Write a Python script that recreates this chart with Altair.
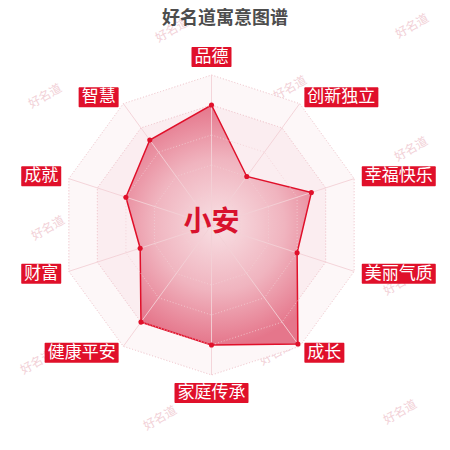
import altair as alt
import pandas as pd

# ---------------- data ----------------
TITLE = "好名道寓意图谱"
PERSON = "小安"
DIMENSIONS = ["品德", "创新独立", "幸福快乐", "美丽气质", "成长",
              "家庭传承", "健康平安", "财富", "成就", "智慧"]
SCORES = [80, 40, 70, 60, 98, 80, 80, 50, 60, 70]
SCORE_MAX = 100
GRID_LEVELS = [20, 40, 60, 80, 100]
WATERMARK = "好名道"

# ---------------- layout (pixels) ----------------
PAGE = 450
MARGIN = 8
PLOT_W = PAGE - 2 * MARGIN
PLOT_H = PAGE - 2 * MARGIN
CX, CY, R = 211.5, 225.0, 150.0          # radar centre / radius on the page
TITLE_POS = (225.0, 10.0)                # page position of the title (top)
LABEL_GAP = 8
LABEL_FS = 17
BOX_PAD = 3
BOX_H = 20
WATERMARK_SPOTS = [(172, 30), (412, 26), (45, 96), (290, 88), (411, 149),
                   (48, 228), (400, 283), (37, 362), (276, 353), (160, 418),
                   (400, 412)]

FONT = "Noto Sans CJK SC"
RED = "#e0102a"
N = len(DIMENSIONS)

x_dom = [(MARGIN - CX) / R, (MARGIN + PLOT_W - CX) / R]
y_dom = [(CY - (MARGIN + PLOT_H)) / R, (CY - MARGIN) / R]
xs = alt.Scale(domain=x_dom, nice=False, zero=False)
ys = alt.Scale(domain=y_dom, nice=False, zero=False)


def X(f):
    return alt.X(f, type="quantitative", scale=xs, axis=None)


def Y(f):
    return alt.Y(f, type="quantitative", scale=ys, axis=None)


axes_df = pd.DataFrame({"dim": DIMENSIONS, "score": SCORES, "idx": list(range(N))})
grid_df = pd.DataFrame([(lv, i) for lv in GRID_LEVELS for i in range(N)],
                       columns=["level", "idx"])
wm_df = pd.DataFrame({"t": [WATERMARK] * len(WATERMARK_SPOTS),
                      "px": [p[0] for p in WATERMARK_SPOTS],
                      "py": [p[1] for p in WATERMARK_SPOTS]})
center_df = pd.DataFrame({"t": [PERSON]})
title_df = pd.DataFrame({"t": [TITLE], "px": [TITLE_POS[0]], "py": [TITLE_POS[1]]})

polar = dict(ang=f"2*PI*datum.idx/{N}", s="sin(datum.ang)", c="cos(datum.ang)")
page_to_unit = dict(u=f"(datum.px-{CX})/{R}", v=f"({CY}-datum.py)/{R}")

# watermarks
watermarks = alt.Chart(wm_df).transform_calculate(**page_to_unit).mark_text(
    font=FONT, fontSize=12, angle=330, color="#f1ccd3", opacity=0.9).encode(
    x=X("u"), y=Y("v"), text="t:N")

title = alt.Chart(title_df).transform_calculate(**page_to_unit).mark_text(
    font=FONT, fontSize=18, fontWeight="bold", color="#4d4d4d", align="center",
    baseline="top").encode(x=X("u"), y=Y("v"), text="t:N")

grid = alt.Chart(grid_df).transform_calculate(**polar).transform_calculate(
    gx=f"datum.level/{SCORE_MAX}*datum.s", gy=f"datum.level/{SCORE_MAX}*datum.c")

ring_outer = grid.transform_filter(f"datum.level=={GRID_LEVELS[-1]}").mark_line(
    interpolate="linear-closed", fill="#fdf7f8", stroke="#f3d6db", strokeWidth=1,
    strokeDash=[1, 2]).encode(x=X("gx"), y=Y("gy"), order="idx:Q")
ring_inner = grid.transform_filter(f"datum.level=={GRID_LEVELS[-2]}").mark_line(
    interpolate="linear-closed", fill="#fbedf0", stroke="#f0c9d0", strokeWidth=1,
    strokeDash=[1, 2]).encode(x=X("gx"), y=Y("gy"), order="idx:Q")

base = alt.Chart(axes_df).transform_calculate(**polar).transform_calculate(
    r=f"datum.score/{SCORE_MAX}", px="datum.r*datum.s", py="datum.r*datum.c",
    zero="0")

gradient = alt.RadialGradient(
    gradient="radial",
    stops=[alt.GradientStop(offset=0, color="#f8e0e4"),
           alt.GradientStop(offset=0.55, color="#f0b4bf"),
           alt.GradientStop(offset=1, color="#e5768b")],
    x1=0.5, y1=0.5, r1=0, x2=0.5, y2=0.5, r2=0.5)

area = base.mark_line(interpolate="linear-closed", fill=gradient, stroke=RED,
                      strokeWidth=1.5).encode(x=X("px"), y=Y("py"), order="idx:Q")

rings = grid.mark_line(interpolate="linear-closed", stroke="#f3cfd5", strokeWidth=1,
                       strokeDash=[1, 2], opacity=0.8).encode(
    x=X("gx"), y=Y("gy"), order="idx:Q", detail="level:N")

spokes = base.mark_rule(color="#f3d0d6", strokeWidth=1, opacity=0.9).encode(
    x=X("zero"), y=Y("zero"), x2="s:Q", y2="c:Q")

points = base.mark_circle(size=26, color=RED, opacity=1).encode(x=X("px"), y=Y("py"))

lab = base.transform_calculate(
    lx=f"{(R + LABEL_GAP) / R}*datum.s", ly=f"{(R + LABEL_GAP) / R}*datum.c",
    w=f"(length(datum.dim)*{LABEL_FS}+{2 * BOX_PAD})/{R}", h=f"{BOX_H}/{R}"
).transform_calculate(
    xa="datum.s>0.01 ? datum.lx : (datum.s<-0.01 ? datum.lx-datum.w : datum.lx-datum.w/2)",
    ya="datum.c>0.99 ? datum.ly : (datum.c<-0.99 ? datum.ly-datum.h : datum.ly-datum.h/2)"
).transform_calculate(
    xb="datum.xa+datum.w", yb="datum.ya+datum.h"
).transform_calculate(
    tx="(datum.xa+datum.xb)/2", ty="(datum.ya+datum.yb)/2")

boxes = lab.mark_rect(color=RED, cornerRadius=1).encode(
    x=X("xa"), x2="xb:Q", y=Y("ya"), y2="yb:Q")
labels = lab.mark_text(font=FONT, fontSize=LABEL_FS, color="white", align="center",
                       baseline="middle").encode(x=X("tx"), y=Y("ty"), text="dim:N")

center = alt.Chart(center_df).transform_calculate(u="0", v="0.012").mark_text(
    font=FONT, fontSize=28, fontWeight="bold", color="#d8122d", align="center",
    baseline="middle").encode(x=X("u"), y=Y("v"), text="t:N")

chart = alt.layer(
    watermarks, title, ring_outer, ring_inner, area, rings, spokes, points, boxes,
    labels, center
).properties(
    width=PLOT_W, height=PLOT_H,
    autosize=alt.AutoSizeParams(type="none"),
    padding=0,
    background="white",
).configure_view(strokeWidth=0)

chart.save("out.html", embed_options={"renderer": "svg", "actions": False})
